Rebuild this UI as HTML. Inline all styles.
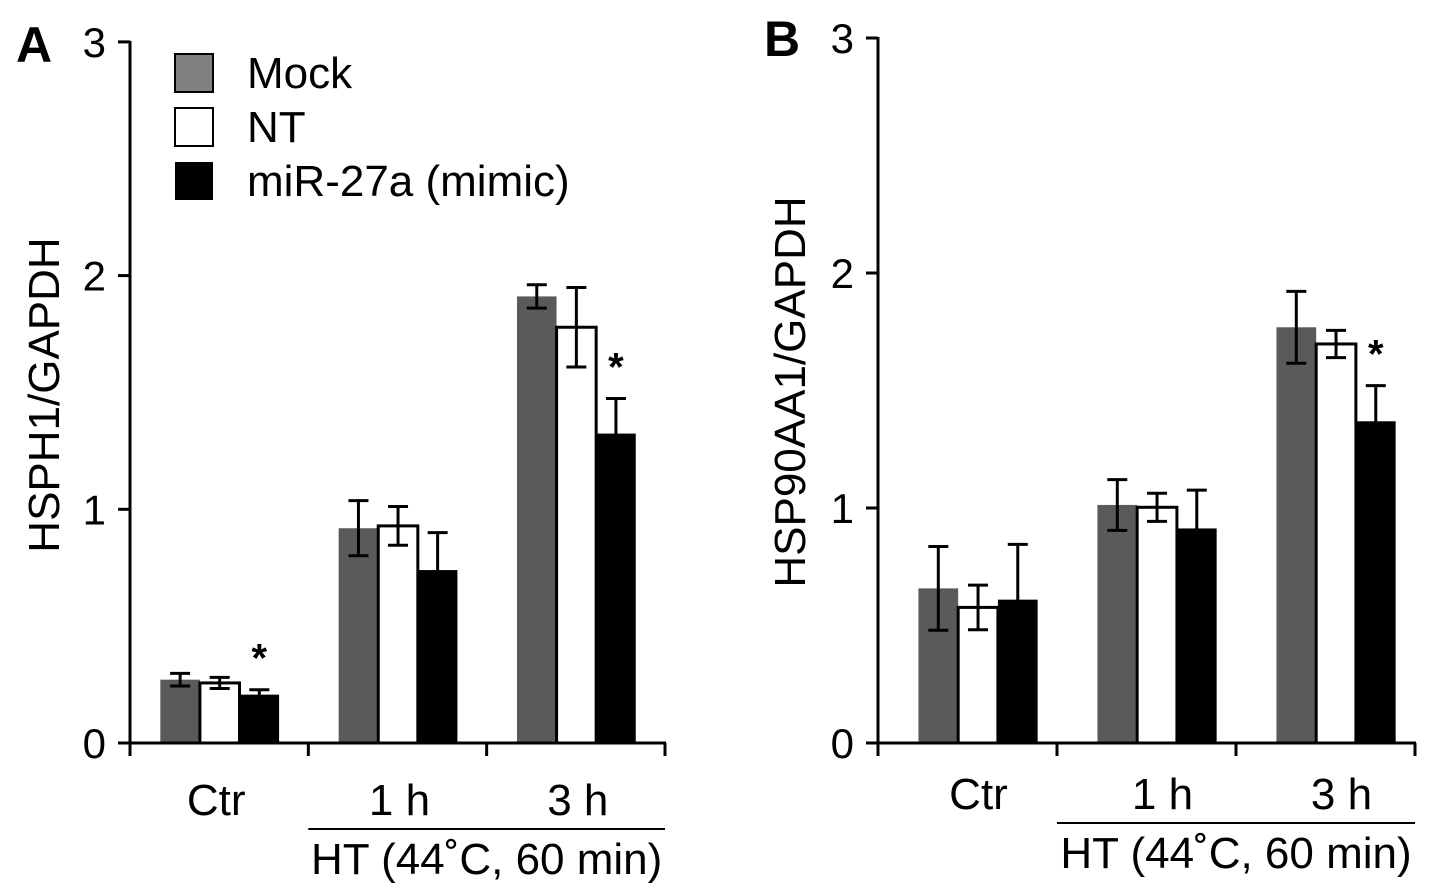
<!DOCTYPE html>
<html><head><meta charset="utf-8"><style>
html,body{margin:0;padding:0;background:#fff;}
svg{display:block;font-family:"Liberation Sans",Arial,sans-serif;}
</style></head><body>
<svg id="chart" width="1441" height="890" viewBox="0 0 1441 890" xmlns="http://www.w3.org/2000/svg">
<text x="16" y="62" font-size="50" font-weight="bold">A</text>
<text x="764" y="56" font-size="50" font-weight="bold">B</text>
<g>
<rect x="175" y="54" width="38" height="38" fill="#808080" stroke="#000" stroke-width="2"/>
<text x="247" y="88" font-size="44">Mock</text>
<rect x="175" y="108" width="38" height="38" fill="#fff" stroke="#000" stroke-width="2"/>
<text x="247" y="142" font-size="44">NT</text>
<rect x="175" y="162" width="38" height="38" fill="#000"/>
<text x="247" y="196" font-size="44">miR-27a (mimic)</text>
</g>
</svg>
<script>
const categories = ["Ctr", "1 h", "3 h"];
const seriesNames = ["Mock", "NT", "miR-27a (mimic)"];
const yTicks = [0, 1, 2, 3];
const aMock = [0.271, 0.919, 1.911];
const aMockErr = [0.027, 0.118, 0.05];
const aNT = [0.257, 0.929, 1.779];
const aNTErr = [0.024, 0.083, 0.17];
const aMir = [0.207, 0.74, 1.324];
const aMirErr = [0.021, 0.16, 0.15];
const aStars = [true, false, true];
const bMock = [0.658, 1.013, 1.769];
const bMockErr = [0.178, 0.108, 0.153];
const bNT = [0.577, 1.003, 1.698];
const bNTErr = [0.095, 0.06, 0.058];
const bMir = [0.61, 0.913, 1.369];
const bMirErr = [0.235, 0.163, 0.152];
const bStars = [false, false, true];

const svg = document.getElementById('chart');
const NS = 'http://www.w3.org/2000/svg';
function mk(tag, attrs, parent) {
  const e = document.createElementNS(NS, tag);
  for (const k in attrs) e.setAttribute(k, attrs[k]);
  parent.appendChild(e);
  return e;
}

function panel(p) {
  const g = mk('g', {}, svg);
  
  
  const y = v => p.y0 - v * p.unit;
  const gw = (p.xEnd - p.ax) / categories.length;
  const bw = gw * 0.222;
  const off = gw * 0.17 + p.shift;
  const fills = ['#5a5a5a', '#fff', '#000'];
  const vals = [p.mock, p.nt, p.mir];
  const errs = [p.mockErr, p.ntErr, p.mirErr];
  categories.forEach((c, i) => {
    const gx = p.ax + i * gw + off;
    for (let s = 0; s < 3; s++) {
      const v = vals[s][i], e = errs[s][i];
      const x = gx + s * bw;
      const cx = x + bw / 2;
      const el = mk('line', {x1: cx, x2: cx, y1: y(v + e), y2: y(v - e), stroke: '#000', 'stroke-width': 3}, g);
      
      
      mk('line', {x1: cx - 10, x2: cx + 10, y1: y(v + e), y2: y(v + e), stroke: '#000', 'stroke-width': 3}, g);
      const r = mk('rect', {x: x, y: y(v), width: bw, height: p.y0 - y(v), fill: fills[s]}, g);
      if (s === 1) { r.setAttribute('stroke', '#000'); r.setAttribute('stroke-width', 3); }
      
      
      if (s !== 2) {
        mk('line', {x1: cx, x2: cx, y1: y(v), y2: y(v - e), stroke: '#000', 'stroke-width': 3}, g);
        mk('line', {x1: cx - 10, x2: cx + 10, y1: y(v - e), y2: y(v - e), stroke: '#000', 'stroke-width': 3}, g);
      }
    }
    if (p.stars[i]) {
      const cx = gx + 2.5 * bw;
      const st = mk('text', {x: cx, y: y(p.mir[i] + p.mirErr[i]) - 18, 'font-size': 40, 'text-anchor': 'middle', 'font-weight': 'bold'}, g);
      st.textContent = '*';
      
      
    }
    const lb = mk('text', {x: p.ax + i * gw + gw / 2 + (i === 0 ? -3 : 2) + p.labShift, y: p.labY + 3, 'font-size': 44, 'text-anchor': 'middle'}, g);
    lb.textContent = c;
    
    
  });
  const ya = mk('line', {x1: p.ax, x2: p.ax, y1: y(3) - 1, y2: p.y0 + 1, stroke: '#000', 'stroke-width': 3}, g);
  
  
  const xa = mk('line', {x1: p.ax - 12, x2: p.xEnd + 1, y1: p.y0, y2: p.y0, stroke: '#000', 'stroke-width': 3}, g);
  
  
  for (let i = 0; i <= categories.length; i++) {
    const tx = p.ax + i * gw;
    mk('line', {x1: tx, x2: tx, y1: p.y0, y2: p.y0 + 13, stroke: '#000', 'stroke-width': 3}, g);
  }
  yTicks.forEach(t => {
    mk('line', {x1: p.ax - 12, x2: p.ax, y1: y(t), y2: y(t), stroke: '#000', 'stroke-width': 3}, g);
    const tl = mk('text', {x: p.ax - 24, y: y(t) + 15, 'font-size': 42, 'text-anchor': 'end'}, g);
    tl.textContent = t;
    
    
  });
  const yt = mk('text', {x: 0, y: 0, 'font-size': 44, 'text-anchor': 'middle', transform: 'translate(' + p.titleX + ',' + p.titleY + ') rotate(-90)'}, g);
  yt.textContent = p.title;
  
  
  const hl = mk('line', {x1: p.ax + gw, x2: p.xEnd, y1: p.labY + 17, y2: p.labY + 17, stroke: '#000', 'stroke-width': 2}, g);
  
  
  const ht = mk('text', {x: p.ax + gw * 2, y: p.labY + 62, 'font-size': 44, 'text-anchor': 'middle'}, g);
  ht.textContent = 'HT (44˚C, 60 min)';
  
  
}

panel({id: 'panel-a', ax: 130, xEnd: 665, y0: 743, unit: 233.7, shift: 0, labShift: 0, mock: aMock, mockErr: aMockErr, nt: aNT, ntErr: aNTErr, mir: aMir, mirErr: aMirErr, stars: aStars, labY: 812, title: 'HSPH1/GAPDH', titleX: 59, titleY: 395});
panel({id: 'panel-b', ax: 878, xEnd: 1415, y0: 743, unit: 235, shift: 10, labShift: 14, mock: bMock, mockErr: bMockErr, nt: bNT, ntErr: bNTErr, mir: bMir, mirErr: bMirErr, stars: bStars, labY: 806, title: 'HSP90AA1/GAPDH', titleX: 805, titleY: 392});
</script>
</body></html>
